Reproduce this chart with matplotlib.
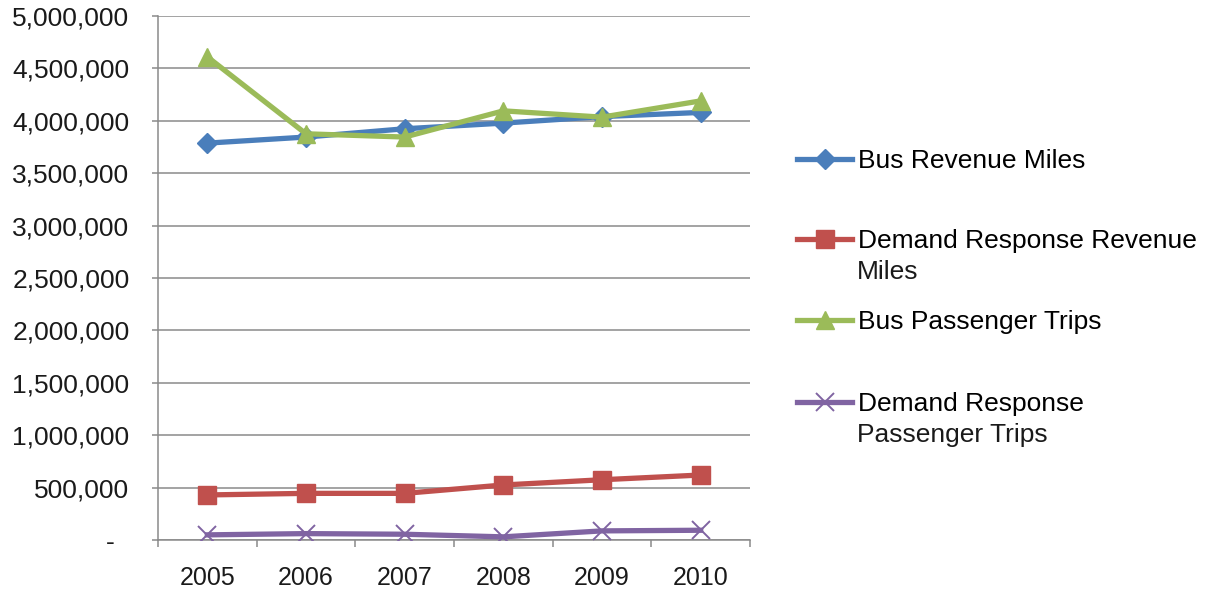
import matplotlib
matplotlib.use("Agg")
import matplotlib.pyplot as plt
from matplotlib.ticker import FuncFormatter, FixedLocator

plt.rcParams['font.family'] = ['Liberation Sans', 'DejaVu Sans']

years = ["2005", "2006", "2007", "2008", "2009", "2010"]
bus_revenue_miles = [3787000, 3845000, 3924000, 3978000, 4040000, 4080000]
dr_revenue_miles = [430000, 445000, 445000, 525000, 575000, 620000]
bus_passenger_trips = [4610000, 3876000, 3845000, 4095000, 4035000, 4190000]
dr_passenger_trips = [49000, 61000, 55000, 30000, 87000, 93000]

series_names = [
    ("Bus Revenue Miles", ""),
    ("Demand Response Revenue", "Miles"),
    ("Bus Passenger Trips", ""),
    ("Demand Response", "Passenger Trips"),
]

BLUE = "#4a7ebb"
RED = "#c0504d"
GREEN = "#9bbb59"
PURPLE = "#8064a2"
GRID = "#8a8a8a"


def money_fmt(v, pos):
    # accounting style: zero shows as a dash
    if v == 0:
        return "-  "
    return "{:,}".format(int(v))


fig = plt.figure(figsize=(12.08, 5.92), dpi=100)
ax = fig.add_axes([158 / 1208, 1 - 540 / 592, 592 / 1208, 524 / 592])

x = range(len(years))
l1, = ax.plot(x, bus_revenue_miles, color=BLUE, lw=3.8, marker="D", ms=10, zorder=3)
l2, = ax.plot(x, dr_revenue_miles, color=RED, lw=3.8, marker="s", ms=12.5, zorder=3)
l3, = ax.plot(x, bus_passenger_trips, color=GREEN, lw=3.8, marker="^", ms=13, zorder=3)
l4, = ax.plot(x, dr_passenger_trips, color=PURPLE, lw=3.8, marker="x", ms=13, mew=1.4, zorder=3)

ax.set_xlim(-0.5, len(years) - 0.5)
ax.set_ylim(0, 5000000)
ax.set_yticks(range(0, 5000001, 500000))
ax.yaxis.set_major_formatter(FuncFormatter(money_fmt))
ax.set_xticks(list(x))
ax.set_xticklabels(years)
ax.xaxis.set_minor_locator(FixedLocator([i - 0.5 for i in range(len(years) + 1)]))

ax.grid(axis="y", color=GRID, lw=1.1, zorder=0)
ax.set_axisbelow(True)
for side in ["top", "right"]:
    ax.spines[side].set_visible(False)
for side in ["left", "bottom"]:
    ax.spines[side].set_color(GRID)
    ax.spines[side].set_linewidth(1.1)

ax.tick_params(axis="y", length=4.5, width=1.1, color=GRID, pad=16, labelsize=19, labelcolor="#1a1a1a")
ax.tick_params(axis="x", which="major", length=0, pad=19, labelsize=18, labelcolor="#1a1a1a")
ax.tick_params(axis="x", which="minor", length=5, width=1.1, color=GRID)

# legend entries, one per series, with the wrapped second line as plain text
legend_rows = [161, 241, 322, 404]
for line, (first, second), row in zip([l1, l2, l3, l4], series_names, legend_rows):
    fig.legend([line], [first], loc="center left",
               bbox_to_anchor=(797 / 1208, 1 - row / 592),
               frameon=False, borderpad=0, borderaxespad=0,
               handlelength=2.1, handletextpad=0.2, fontsize=19)
    if second:
        fig.text(857 / 1208, 1 - (row + 31) / 592, second, fontsize=19,
                 va="center", ha="left", color="#1a1a1a")

plt.savefig("out.png", dpi=100)
